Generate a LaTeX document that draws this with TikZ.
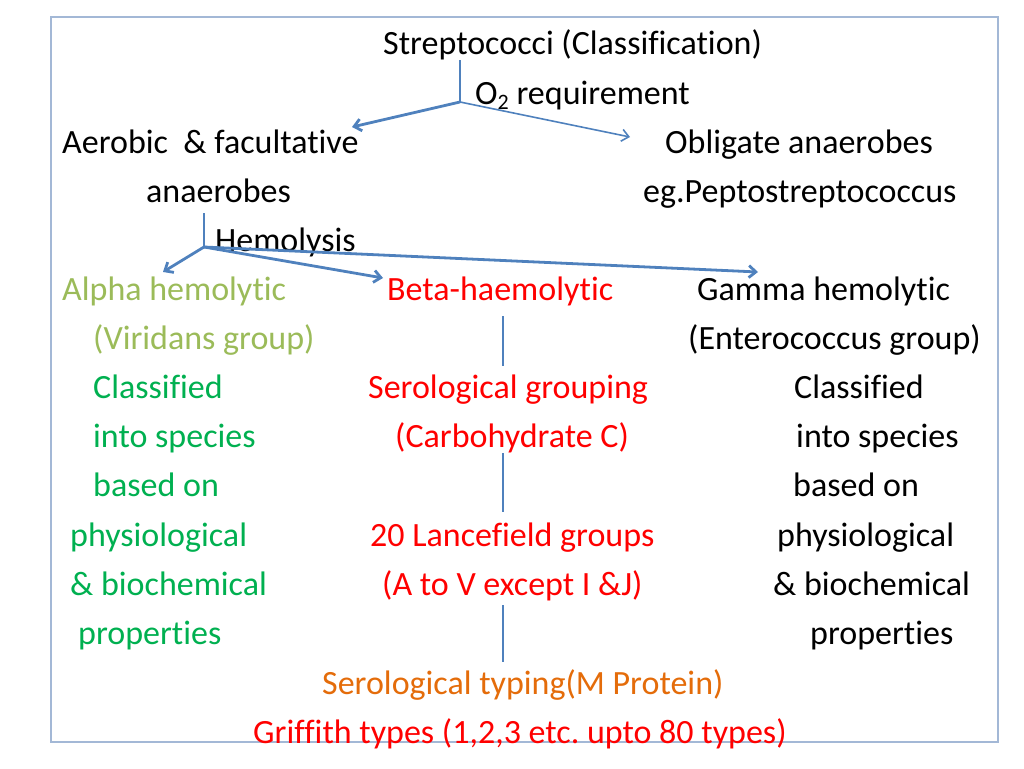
\documentclass[tikz,border=0pt]{standalone}
\usepackage{fontspec}
\setmainfont[Ligatures={NoCommon}]{Carlito}
\usepackage{xcolor}
\usetikzlibrary{
  positioning,
  arrows.meta
}
\definecolor{linkblue}{HTML}{4F81BD}
\definecolor{frameblue}{HTML}{A3B8D6}
\definecolor{alphaolive}{HTML}{9BBB59}
\definecolor{alphagreen}{HTML}{00B050}
\definecolor{betared}{HTML}{FF0000}
\definecolor{typeorange}{HTML}{E46C0A}
\frenchspacing

\begin{document}
\begin{tikzpicture}[x=1pt,y=-1pt,>={Straight Barb[length=7pt,width=12pt]},
    every node/.style={anchor=base west,inner sep=0pt,font=\fontsize{34}{36}\selectfont},
    link/.style={linkblue,line width=1.6pt},
    thicklink/.style={linkblue,line width=2.8pt}]
        \useasboundingbox (0,0) rectangle (1024,768);
        \draw[frameblue,line width=1.2pt] (51,17) rectangle (998,742);

        % oxygen requirement
        \node (strep) at (383,55) {Streptococci (Classification)};
        \node (otwo) at (475,104) {O\raisebox{-0.35ex}{\fontsize{22}{22}\selectfont 2} requirement};
        \node (aerobic) at (62,153) {Aerobic \ \& facultative};
        \node (aerobic2) at (146,202) {anaerobes};
        \node (obligate) at (665,153) {Obligate anaerobes};
        \node (pepto) at (643,202) {eg.Peptostreptococcus};

        \coordinate (otop) at (460,60);
        \coordinate (ofork) at (460,102);
        \coordinate (oleft) at (352,127);
        \coordinate (oright) at (630,137);
        \draw[link] (otop) -- (ofork);
        \draw[thicklink,->] (ofork) -- (oleft);
        \draw[link,->] (ofork) -- (oright);

        % hemolysis
        \node (hemo) at (215,251) {Hemolysis};
        \coordinate (htop) at (204,213);
        \coordinate (hfork) at (204,247);
        \coordinate (hleft) at (163,272);
        \coordinate (hmid) at (383,278);
        \coordinate (hright) at (758,272);
        \draw[link] (htop) -- (hfork);
        \draw[thicklink,->] (hfork) -- (hleft);
        \draw[thicklink,->] (hfork) -- (hmid);
        \draw[thicklink,->] (hfork) -- (hright);

        % alpha
        \node[alphaolive] (alpha) at (62,300) {Alpha hemolytic};
        \node[alphaolive] (alpha2) at (93,349) {(Viridans group)};
        \node[alphagreen] (alpha3) at (93,398) {Classified};
        \node[alphagreen] (alpha4) at (93,447) {into species};
        \node[alphagreen] (alpha5) at (93,496) {based on};
        \node[alphagreen] (alpha6) at (70,546) {physiological};
        \node[alphagreen] (alpha7) at (70,595) {\& biochemical};
        \node[alphagreen] (alpha8) at (78,644) {properties};

        % beta
        \node[betared] (beta) at (387,300) {Beta-haemolytic};
        \node[betared] (beta2) at (368,398) {Serological grouping};
        \node[betared] (beta3) at (395,447) {(Carbohydrate C)};
        \node[betared] (beta4) at (370,546) {20 Lancefield groups};
        \node[betared] (beta5) at (382,595) {(A to V except I \&J)};
        \node[typeorange] (typing) at (322,694) {Serological typing(M Protein)};
        \node[betared] (griffith) at (253,743) {Griffith types (1,2,3 etc. upto 80 types)};

        \coordinate (ba) at (503,316);
        \coordinate (bb) at (503,366);
        \coordinate (bc) at (503,453);
        \coordinate (bd) at (503,512);
        \coordinate (be) at (503,605);
        \coordinate (bf) at (503,662);
        \draw[thicklink] (ba) -- (bb);
        \draw[thicklink] (bc) -- (bd);
        \draw[thicklink] (be) -- (bf);

        % gamma
        \node (gamma) at (697,300) {Gamma hemolytic};
        \node (gamma2) at (688,349) {(Enterococcus group)};
        \node (gamma3) at (794,398) {Classified};
        \node (gamma4) at (796,447) {into species};
        \node (gamma5) at (793,496) {based on};
        \node (gamma6) at (777,546) {physiological};
        \node (gamma7) at (773,595) {\& biochemical};
        \node (gamma8) at (810,644) {properties};
    \end{tikzpicture}
\end{document}
